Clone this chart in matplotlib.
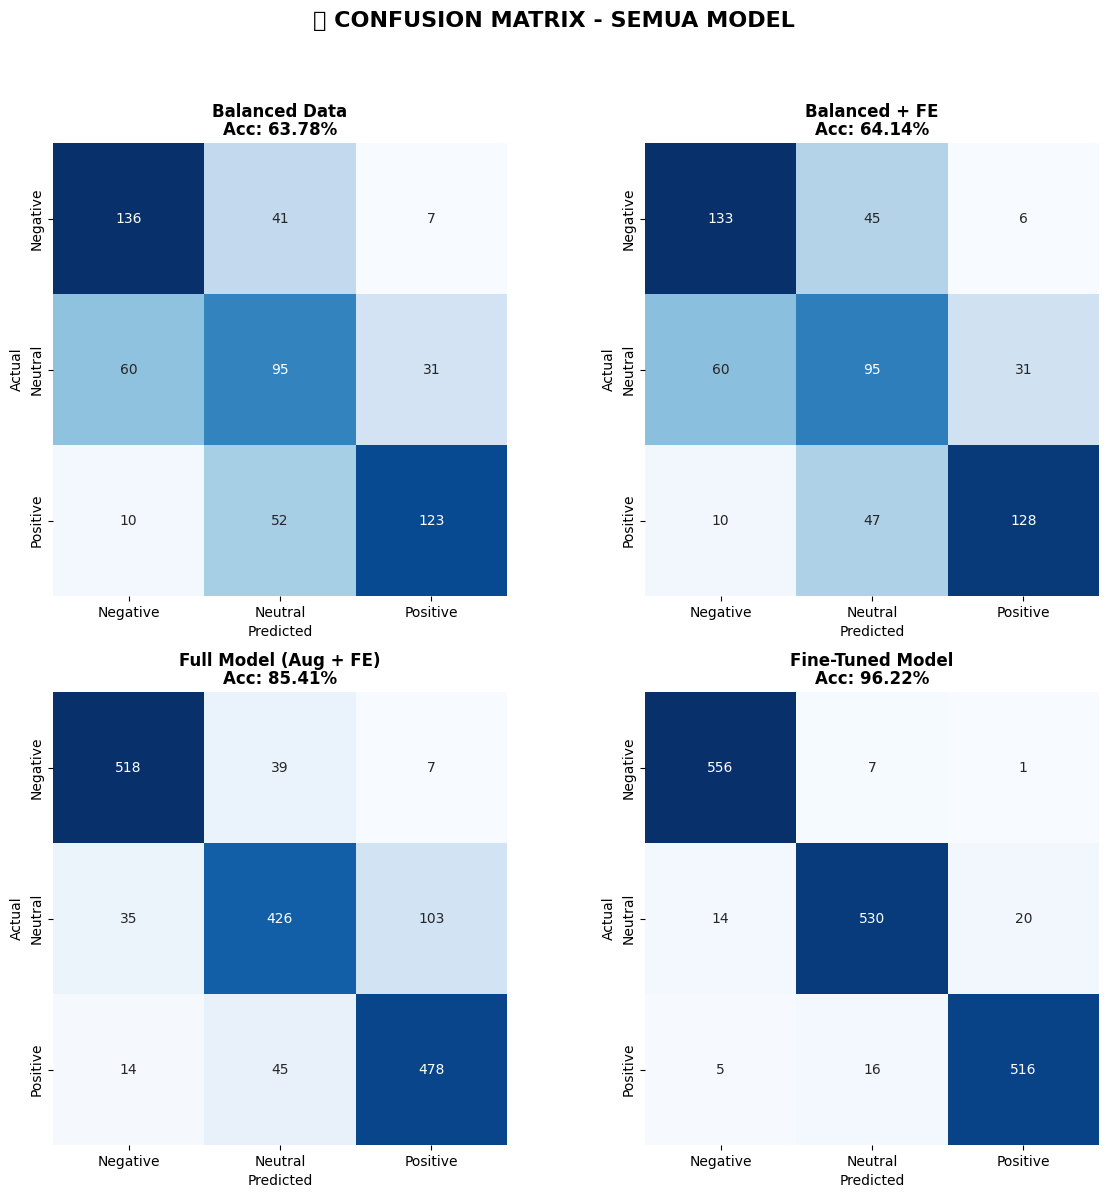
import numpy as np
import matplotlib
matplotlib.use('Agg')
import matplotlib.pyplot as plt
import seaborn as sns

labels = ['Negative', 'Neutral', 'Positive']
titles = ['Balanced Data', 'Balanced + FE', 'Full Model (Aug + FE)', 'Fine-Tuned Model']
accs = [63.78, 64.14, 85.41, 96.22]

cm_balanced = [[136, 41, 7], [60, 95, 31], [10, 52, 123]]
cm_balanced_fe = [[133, 45, 6], [60, 95, 31], [10, 47, 128]]
cm_full = [[518, 39, 7], [35, 426, 103], [14, 45, 478]]
cm_finetuned = [[556, 7, 1], [14, 530, 20], [5, 16, 516]]
matrices = [cm_balanced, cm_balanced_fe, cm_full, cm_finetuned]

fig = plt.figure(figsize=(11.08, 11.99), dpi=100)
# the emoji has no glyph in the installed fonts (the reference shows a box too)
fig.suptitle('📊 CONFUSION MATRIX - SEMUA MODEL', fontsize=16, fontweight='bold', y=0.991)

# axes positions (left, bottom) in figure fraction
positions = [(0.0478, 0.5029), (0.5821, 0.5029), (0.0478, 0.0450), (0.5821, 0.0450)]
w, h = 0.4097, 0.3778

for i, cm in enumerate(matrices):
    ax = fig.add_axes([positions[i][0], positions[i][1], w, h])
    sns.heatmap(np.array(cm), annot=True, fmt='d', cmap='Blues', cbar=False,
                xticklabels=labels, yticklabels=labels, ax=ax)
    ax.set_title(f'{titles[i]}\nAcc: {accs[i]:.2f}%', fontsize=12, fontweight='bold',
                 linespacing=0.95)
    ax.set_xlabel('Predicted')
    ax.set_ylabel('Actual')

plt.savefig('out.png', dpi=100)
